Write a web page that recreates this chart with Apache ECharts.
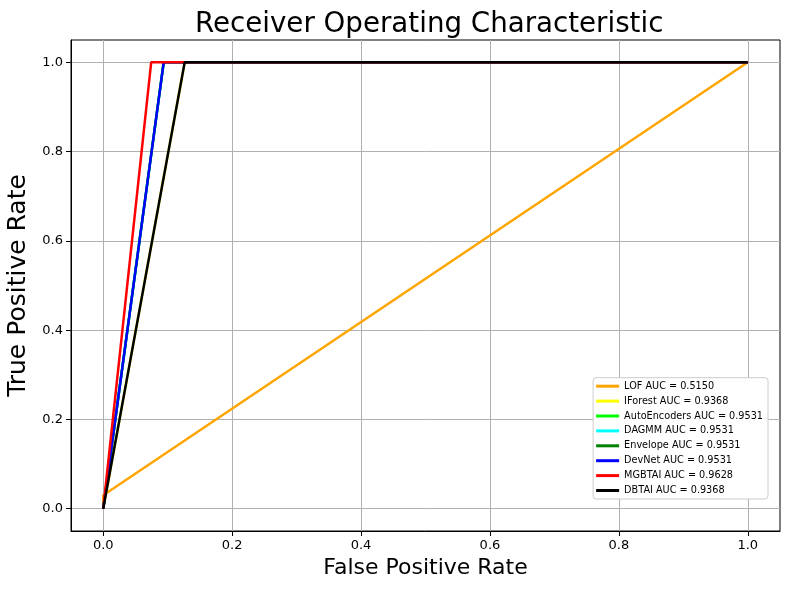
<!DOCTYPE html>
<html>
<head>
<meta charset="utf-8">
<script src="https://cdn.jsdelivr.net/npm/echarts@6/dist/echarts.min.js"></script>
<style>
  html, body { margin: 0; padding: 0; background: #fff; }
  #chart { width: 789px; height: 590px; }
</style>
</head>
<body>
<div id="chart"></div>
<script>
// model names, legend labels and colours, in drawing order
const names = ['LOF', 'IForest', 'AutoEncoders', 'DAGMM', 'Envelope', 'DevNet', 'MGBTAI', 'DBTAI'];
const aucs = ['0.5150', '0.9368', '0.9531', '0.9531', '0.9531', '0.9531', '0.9628', '0.9368'];
const colors = ['#ffa500', '#ffff00', '#00ff00', '#00ffff', '#008000', '#0000ff', '#ff0000', '#000000'];

// ROC points (false positive rate / true positive rate) for each model
const fprs = [
  [0, 0, 1],
  [0, 0.1264, 1],
  [0, 0.0938, 1],
  [0, 0.0938, 1],
  [0, 0.0938, 1],
  [0, 0.0938, 1],
  [0, 0.0744, 1],
  [0, 0.1264, 1]
];
const tprs = [
  [0, 0.03, 1],
  [0, 1, 1],
  [0, 1, 1],
  [0, 1, 1],
  [0, 1, 1],
  [0, 1, 1],
  [0, 1, 1],
  [0, 1, 1]
];
const tickValues = [0, 0.2, 0.4, 0.6, 0.8, 1.0];

const chart = echarts.init(document.getElementById('chart'));

const series = names.map((n, i) => ({
  name: n + ' AUC = ' + aucs[i],
  type: 'line',
  data: fprs[i].map((x, j) => [x, tprs[i][j]]),
  symbol: 'none',
  lineStyle: { color: colors[i], width: 2.5 },
  itemStyle: { color: colors[i] },
  animation: false
}));

const axisCommon = {
  type: 'value',
  min: -0.05,
  max: 1.05,
  axisLine: { show: true, onZero: false, lineStyle: { color: '#000', width: 1 } },
  axisTick: { show: true, inside: false, length: 5, customValues: tickValues, lineStyle: { color: '#000' } },
  axisLabel: {
    customValues: tickValues,
    formatter: v => v.toFixed(1),
    color: '#000',
    fontSize: 13,
    margin: 8,
    fontFamily: 'DejaVu Sans'
  },
  splitLine: { show: true, lineStyle: { color: '#b0b0b0', width: 1 } },
  nameLocation: 'middle',
  nameTextStyle: { color: '#000', fontFamily: 'DejaVu Sans' }
};

chart.setOption({
  backgroundColor: '#fff',
  animation: false,
  // title sits centred over the plot area, not the whole page
  title: {
    text: 'Receiver Operating Characteristic',
    left: 190,
    top: 6,
    textStyle: { fontSize: 27.7, fontWeight: 'normal', color: '#000', fontFamily: 'DejaVu Sans' }
  },
  grid: {
    left: 71, right: 9, top: 40, bottom: 59,
    containLabel: false,
    outerBoundsMode: 'none',
    show: true, borderColor: '#000', borderWidth: 1
  },
  xAxis: Object.assign({}, axisCommon, {
    name: 'False Positive Rate', nameGap: 26,
    nameTextStyle: { color: '#000', fontFamily: 'DejaVu Sans', fontSize: 22 }
  }),
  yAxis: Object.assign({}, axisCommon, {
    name: 'True Positive Rate', nameGap: 37,
    nameTextStyle: { color: '#000', fontFamily: 'DejaVu Sans', fontSize: 25 }
  }),
  legend: {
    orient: 'vertical',
    right: 21,
    bottom: 91,
    icon: 'rect',
    itemWidth: 23,
    itemHeight: 3,
    itemGap: 3.9,
    padding: [3, 5, 3, 3],
    backgroundColor: '#fff',
    borderColor: '#cccccc',
    borderWidth: 1,
    borderRadius: 3,
    textStyle: { fontSize: 9.7, color: '#000', fontFamily: 'DejaVu Sans', lineHeight: 11 }
  },
  series: series
});
</script>
</body>
</html>
